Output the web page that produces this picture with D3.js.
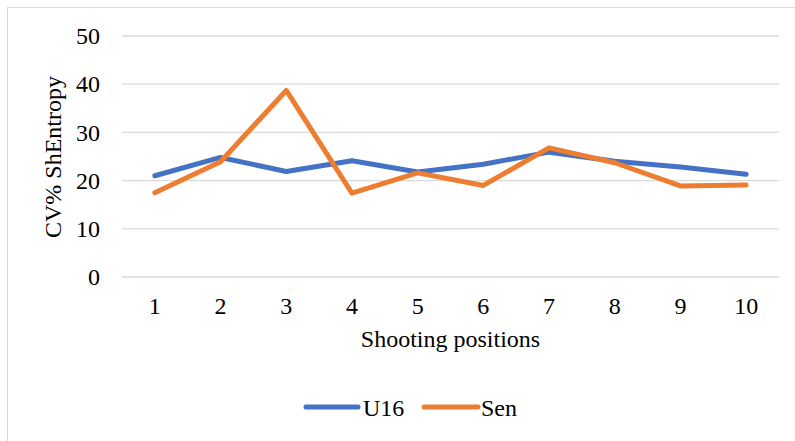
<!DOCTYPE html>
<html><head><meta charset="utf-8">
<script src="https://cdn.jsdelivr.net/npm/d3@7"></script>
<style>body{margin:0;background:#fff}svg{display:block}text{font-family:"Times New Roman","Liberation Serif","DejaVu Serif",serif !important;fill:#000}</style>
</head><body><svg id="c" width="795" height="441"></svg>
<script>
const categories = ["1","2","3","4","5","6","7","8","9","10"];
const u16 = [21.0, 24.8, 21.9, 24.1, 21.8, 23.4, 25.9, 24.0, 22.8, 21.3];
const sen = [17.5, 23.9, 38.7, 17.4, 21.6, 19.0, 26.8, 23.7, 18.9, 19.1];
const yTicks = [0,10,20,30,40,50];
const seriesNames = ["U16","Sen"];
const colors = ["#4472C4","#ED7D31"];

const svg = d3.select("#c");
svg.append("rect").attr("x",7.5).attr("y",7.5).attr("width",800).attr("height",450)
  .attr("fill","#fff").attr("stroke","#d9d9d9").attr("stroke-width",1);

const L=122, R=779, T=36, B=277;
const FS = "24px";
const x = d3.scaleBand().domain(categories).range([L,R]);
const y = d3.scaleLinear().domain([0,50]).range([B,T]);

svg.append("g").selectAll("line").data(yTicks).join("line")
  .attr("x1",L).attr("x2",R).attr("y1",d=>y(d)).attr("y2",d=>y(d))
  .attr("stroke","#d9d9d9").attr("stroke-width",1.3);

const yAxis = svg.append("g").attr("transform",`translate(${L},0)`)
  .call(d3.axisLeft(y).tickValues(yTicks).tickSize(0).tickPadding(22));
yAxis.attr("font-family",null).attr("font-size",null);
yAxis.select(".domain").remove();
yAxis.selectAll("text").style("font-size",FS);

const xAxis = svg.append("g").attr("transform",`translate(0,${B})`)
  .call(d3.axisBottom(x).tickSize(0).tickPadding(20));
xAxis.attr("font-family",null).attr("font-size",null);
xAxis.select(".domain").remove();
xAxis.selectAll("text").style("font-size",FS);

const line = d3.line().x((d,i)=>x(categories[i])+x.bandwidth()/2).y(d=>y(d));
[u16,sen].forEach((s,k)=>{
  svg.append("path").datum(s).attr("d",line).attr("fill","none")
    .attr("stroke",colors[k]).attr("stroke-width",5)
    .attr("stroke-linejoin","round").attr("stroke-linecap","round");
});

svg.append("text").attr("x",(L+R)/2).attr("y",347).attr("text-anchor","middle")
  .style("font-size",FS).text("Shooting positions");
svg.append("text").attr("transform",`translate(61,157) rotate(-90)`).attr("text-anchor","middle")
  .style("font-size",FS).text("CV% ShEntropy");

const lg = [{x1:306,x2:358,tx:363},{x1:424,x2:478,tx:481}];
lg.forEach((p,k)=>{
  svg.append("line").attr("x1",p.x1).attr("x2",p.x2).attr("y1",407).attr("y2",407)
    .attr("stroke",colors[k]).attr("stroke-width",5).attr("stroke-linecap","round");
  svg.append("text").attr("x",p.tx).attr("y",416)
    .style("font-size",FS).text(seriesNames[k]);
});
</script></body></html>
